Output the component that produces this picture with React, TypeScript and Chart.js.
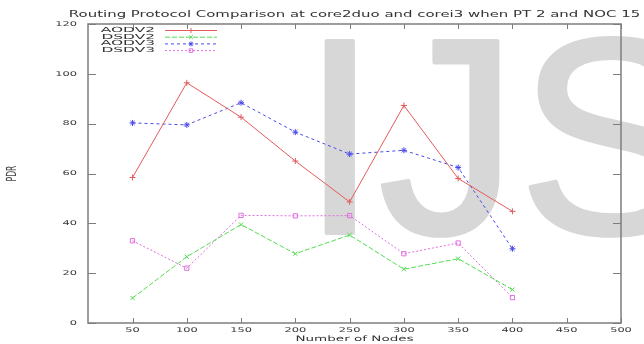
import { useEffect, useRef } from "react";
import { Chart, registerables } from "chart.js";
import { drawPoint } from "chart.js/helpers";

Chart.register(...registerables);

const TITLE = "Routing Protocol Comparison at core2duo and corei3 when PT 2 and NOC 15";
const X_TITLE = "Number of Nodes";
const Y_TITLE = "PDR";
const WATERMARK = "IJS";

const nodes = [50, 100, 150, 200, 250, 300, 350, 400];
const xTicks = [50, 100, 150, 200, 250, 300, 350, 400, 450, 500];
const yTicks = [0, 20, 40, 60, 80, 100, 120];

const seriesNames = ["AODV2", "DSDV2", "AODV3", "DSDV3"];
const aodv2 = [58.4, 96.4, 82.6, 65, 48.6, 87.3, 58, 44.8];
const dsdv2 = [10, 26.6, 39.5, 27.8, 35.3, 21.6, 25.8, 13.4];
const aodv3 = [80.3, 79.5, 88.4, 76.6, 67.8, 69.3, 62.4, 29.8];
const dsdv3 = [33, 22, 43.2, 43, 43.1, 27.8, 32.1, 10.2];

const SX = 1.8;
const FONT = '"DejaVu Sans", sans-serif';
const WM_FONT = '100px "Liberation Sans"';

function stretchedText(
  ctx: CanvasRenderingContext2D,
  text: string,
  x: number,
  y: number,
  align: CanvasTextAlign,
  size: number,
  color: string,
  sx: number = SX
) {
  ctx.save();
  ctx.font = `${size}px ${FONT}`;
  ctx.fillStyle = color;
  ctx.textBaseline = "middle";
  ctx.textAlign = align;
  ctx.translate(x, y);
  ctx.scale(sx, 1);
  ctx.fillText(text, 0, 0);
  ctx.restore();
}

const gnuplotPlugin = {
  id: "gnuplotLook",
  beforeDatasetsDraw(chart: any) {
    const ctx = chart.ctx as CanvasRenderingContext2D;
    ctx.save();
    ctx.font = WM_FONT;
    ctx.fillStyle = "#d7d7d7";
    ctx.strokeStyle = "#d7d7d7";
    ctx.lineJoin = "round";
    ctx.textBaseline = "alphabetic";
    ctx.textAlign = "left";
    ctx.translate(301, 233);
    ctx.scale(2.79, 2.79);
    ctx.lineWidth = 1.5;
    ctx.fillText(WATERMARK, 0, 0);
    ctx.strokeText(WATERMARK, 0, 0);
    ctx.restore();
  },
  afterDraw(chart: any) {
    const ctx = chart.ctx as CanvasRenderingContext2D;
    const { left, right, top, bottom } = chart.chartArea;
    const xs = chart.scales.x;
    const ys = chart.scales.y;

    ctx.save();
    ctx.strokeStyle = "#7d7d7d";
    ctx.lineWidth = 1.5;
    ctx.strokeRect(left, top, right - left, bottom - top);
    ctx.lineWidth = 1;
    ctx.beginPath();
    xTicks.forEach((v) => {
      const px = Math.round(xs.getPixelForValue(v)) + 0.5;
      ctx.moveTo(px, bottom);
      ctx.lineTo(px, bottom - 5);
      ctx.moveTo(px, top);
      ctx.lineTo(px, top + 5);
    });
    yTicks.forEach((v) => {
      const py = Math.round(ys.getPixelForValue(v)) + 0.5;
      ctx.moveTo(left, py);
      ctx.lineTo(left + 8, py);
      ctx.moveTo(right, py);
      ctx.lineTo(right - 8, py);
    });
    ctx.stroke();
    ctx.restore();

    xTicks.forEach((v) => {
      stretchedText(ctx, String(v), xs.getPixelForValue(v), bottom + 7, "center", 6.5, "#3a3a3a", 1.75);
    });
    yTicks.forEach((v) => {
      stretchedText(ctx, String(v), left - 11, ys.getPixelForValue(v), "right", 6.5, "#3a3a3a", 1.75);
    });

    stretchedText(ctx, TITLE, (left + right) / 2, 15, "center", 8.3, "#333");
    stretchedText(ctx, X_TITLE, (left + right) / 2, 339.5, "center", 7.5, "#333");

    ctx.save();
    ctx.font = `7.7px ${FONT}`;
    ctx.fillStyle = "#444";
    ctx.textAlign = "center";
    ctx.textBaseline = "middle";
    ctx.translate(12, (top + bottom) / 2);
    ctx.scale(SX, 1);
    ctx.rotate(-Math.PI / 2);
    ctx.fillText(Y_TITLE, 0, 0);
    ctx.restore();

    chart.data.datasets.forEach((ds: any, i: number) => {
      const y = 30 + i * 6.7;
      stretchedText(ctx, ds.label, 155, y, "right", 7, "#333", 2.2);
      ctx.save();
      ctx.strokeStyle = ds.borderColor;
      ctx.lineWidth = 1;
      ctx.setLineDash(ds.borderDash || []);
      ctx.beginPath();
      ctx.moveTo(165, y + 0.5);
      ctx.lineTo(217, y + 0.5);
      ctx.stroke();
      ctx.setLineDash([]);
      ctx.fillStyle = "rgba(0,0,0,0)";
      ctx.strokeStyle = ds.borderColor;
      drawPoint(ctx, { pointStyle: ds.pointStyle, radius: 2.5, rotation: 0, borderWidth: 1 } as any, 191, y + 0.5);
      ctx.restore();
    });
  },
};

function toPoints(values: number[]) {
  return nodes.map((n, i) => ({ x: n, y: values[i] }));
}

export default function App() {
  const ref = useRef<HTMLCanvasElement | null>(null);

  useEffect(() => {
    document.body.style.margin = "0";
    const canvas = ref.current;
    if (!canvas) return;
    let chart: Chart | null = null;
    let cancelled = false;

    const colors = ["#e55a5a", "#52dc52", "#4a4ae8", "#e06ee0"];
    const dashes = [[], [5, 2], [3, 3], [2, 2]];
    const styles = ["cross", "crossRot", "star", "rect"];
    const values = [aodv2, dsdv2, aodv3, dsdv3];

    const build = () => {
      if (cancelled) return;
      chart = new Chart(canvas, {
        type: "line",
        data: {
          datasets: seriesNames.map((name, i) => ({
            label: name,
            data: toPoints(values[i]),
            borderColor: colors[i],
            backgroundColor: "rgba(0,0,0,0)",
            pointBorderColor: colors[i],
            pointBackgroundColor: "rgba(0,0,0,0)",
            borderDash: dashes[i],
            borderWidth: 1,
            pointStyle: styles[i] as any,
            pointRadius: 3,
            pointBorderWidth: 1,
            tension: 0,
            fill: false,
          })),
        },
        options: {
          responsive: false,
          maintainAspectRatio: false,
          animation: false,
          devicePixelRatio: 1,
          events: [],
          layout: { padding: { top: 24, right: 23, left: 0, bottom: 0 } },
          plugins: {
            legend: { display: false },
            title: { display: false },
            tooltip: { enabled: false },
          },
          scales: {
            x: {
              type: "linear",
              min: 9,
              max: 500,
              grid: { display: false },
              border: { display: false },
              ticks: { display: false },
              afterBuildTicks: (s: any) => {
                s.ticks = xTicks.map((v) => ({ value: v }));
              },
              afterFit: (s: any) => {
                s.height = 21;
              },
            },
            y: {
              type: "linear",
              min: 0,
              max: 120,
              grid: { display: false },
              border: { display: false },
              ticks: { display: false },
              afterBuildTicks: (s: any) => {
                s.ticks = yTicks.map((v) => ({ value: v }));
              },
              afterFit: (s: any) => {
                s.width = 88;
              },
            },
          },
        },
        plugins: [gnuplotPlugin],
      });
    };

    const fonts: any = (document as any).fonts;
    if (fonts && fonts.load) {
      Promise.all([fonts.load(WM_FONT, WATERMARK), fonts.load(`10px "DejaVu Sans"`, "A")])
        .catch(() => null)
        .then(build);
    } else {
      build();
    }

    return () => {
      cancelled = true;
      if (chart) chart.destroy();
    };
  }, []);

  return (
    <div style={{ width: 644, height: 344, background: "#fff" }}>
      <canvas ref={ref} width={644} height={344} style={{ display: "block", width: 644, height: 344 }} />
    </div>
  );
}
